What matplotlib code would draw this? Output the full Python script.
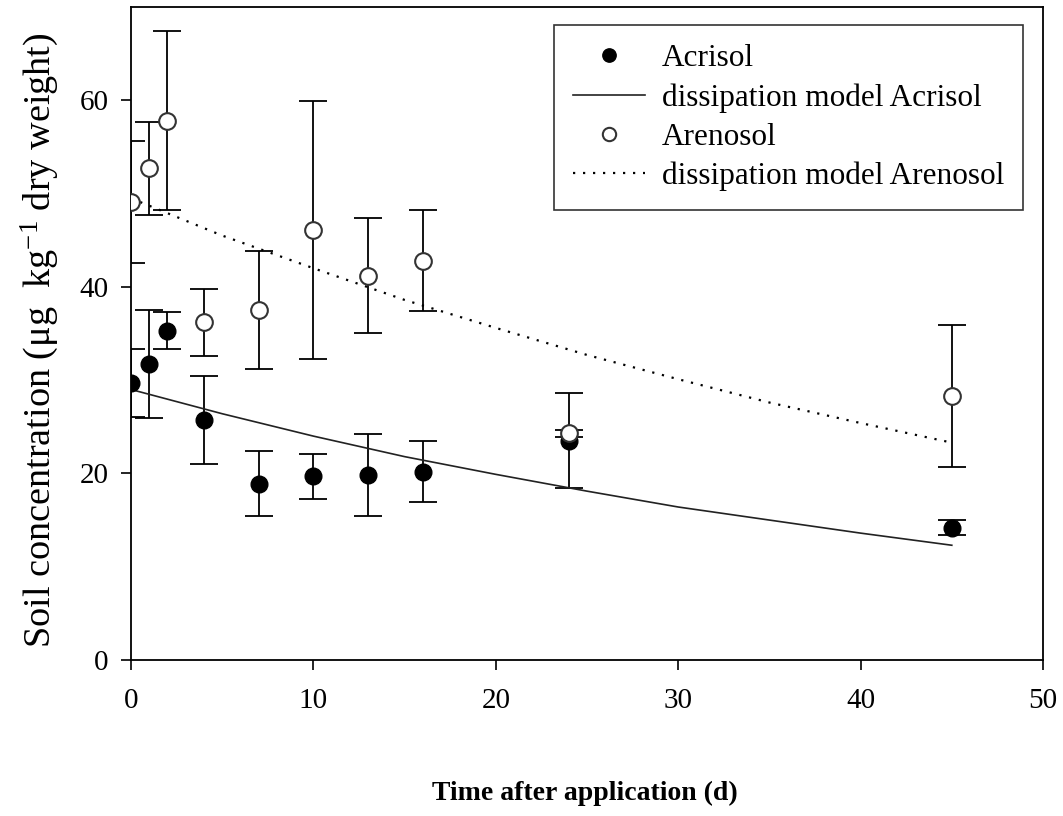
"""Soil concentration over time for two soils, with fitted dissipation curves."""
import matplotlib
matplotlib.use("Agg")
import matplotlib.pyplot as plt

plt.rcParams["font.family"] = ["Liberation Serif", "DejaVu Serif"]
plt.rcParams["mathtext.fontset"] = "custom"
plt.rcParams["mathtext.rm"] = "Liberation Serif"
plt.rcParams["mathtext.it"] = "Liberation Serif:italic"

# sampling days
DAYS = [0, 1, 2, 4, 7, 10, 13, 16, 24, 45]
# measured means and error bars (ug/kg dry weight)
ACRISOL = [29.7, 31.7, 35.3, 25.7, 18.9, 19.7, 19.8, 20.2, 23.5, 14.2]
ACRISOL_ERR = [3.6, 5.8, 2.0, 4.7, 3.5, 2.4, 4.4, 3.3, 5.1, 0.8]
ARENOSOL = [49.1, 52.7, 57.8, 36.2, 37.5, 46.1, 41.2, 42.8, 24.3, 28.3]
ARENOSOL_ERR = [6.5, 5.0, 9.6, 3.6, 6.3, 13.8, 6.2, 5.4, 0.4, 7.6]
# dissipation model curves
MODEL_DAYS = [0, 5, 10, 15, 20, 25, 30, 35, 40, 45]
MODEL_ACRISOL = [29.0, 26.4, 24.0, 21.8, 19.9, 18.1, 16.4, 15.0, 13.6, 12.3]
MODEL_ARENOSOL = [49.5, 45.5, 42.0, 38.6, 35.6, 32.7, 30.1, 27.6, 25.4, 23.3]

FS = 21

fig = plt.figure(figsize=(10.63, 8.16), dpi=100)
ax = fig.add_axes([0.1232, 0.1912, 0.858, 0.8002])

err_kw = dict(fmt="none", ecolor="black", elinewidth=1.3, capsize=10, capthick=1.3, zorder=2)
ax.errorbar(DAYS, ACRISOL, yerr=ACRISOL_ERR, **err_kw)
ax.errorbar(DAYS, ARENOSOL, yerr=ARENOSOL_ERR, **err_kw)

h_acr, = ax.plot(DAYS, ACRISOL, "o", ms=12, color="black", mec="black", zorder=4,
                 label="Acrisol")
h_macr, = ax.plot(MODEL_DAYS, MODEL_ACRISOL, "-", color="#222222", lw=1.2, zorder=3,
                  label="dissipation model Acrisol")
h_are, = ax.plot(DAYS, ARENOSOL, "o", ms=12, mfc="white", mec="#333333", mew=1.5,
                 zorder=4, label="Arenosol")
h_mare, = ax.plot(MODEL_DAYS, MODEL_ARENOSOL, color="black", lw=1.6,
                  linestyle=(0, (1, 3.5)), zorder=3, label="dissipation model Arenosol")

ax.set_xlim(0, 50)
ax.set_ylim(0, 70)
ax.set_xticks([0, 10, 20, 30, 40, 50])
ax.set_yticks([0, 20, 40, 60])
ax.tick_params(direction="out", length=7, width=1.2, labelsize=FS)
ax.tick_params(axis="x", pad=13)
ax.tick_params(axis="y", pad=9)
for s in ax.spines.values():
    s.set_linewidth(1.3)

ax.set_ylabel(r"Soil concentration (μg  kg$^{-1}$ dry weight)", fontsize=27.5)
ax.yaxis.set_label_coords(-0.077, 0.49)
ax.set_xlabel("Time after application (d)", fontsize=20, fontweight="bold")
ax.xaxis.set_label_coords(0.498, -0.185)

leg = ax.legend(handles=[h_acr, h_macr, h_are, h_mare], loc="upper right",
                bbox_to_anchor=(0.978, 0.972), borderaxespad=0, fontsize=22.5,
                frameon=True, fancybox=False, edgecolor="black",
                handlelength=2.3, handletextpad=0.55, labelspacing=0.32,
                borderpad=0.6, markerscale=0.8)
leg.get_frame().set_linewidth(1.2)

fig.savefig("out.png", dpi=100)
